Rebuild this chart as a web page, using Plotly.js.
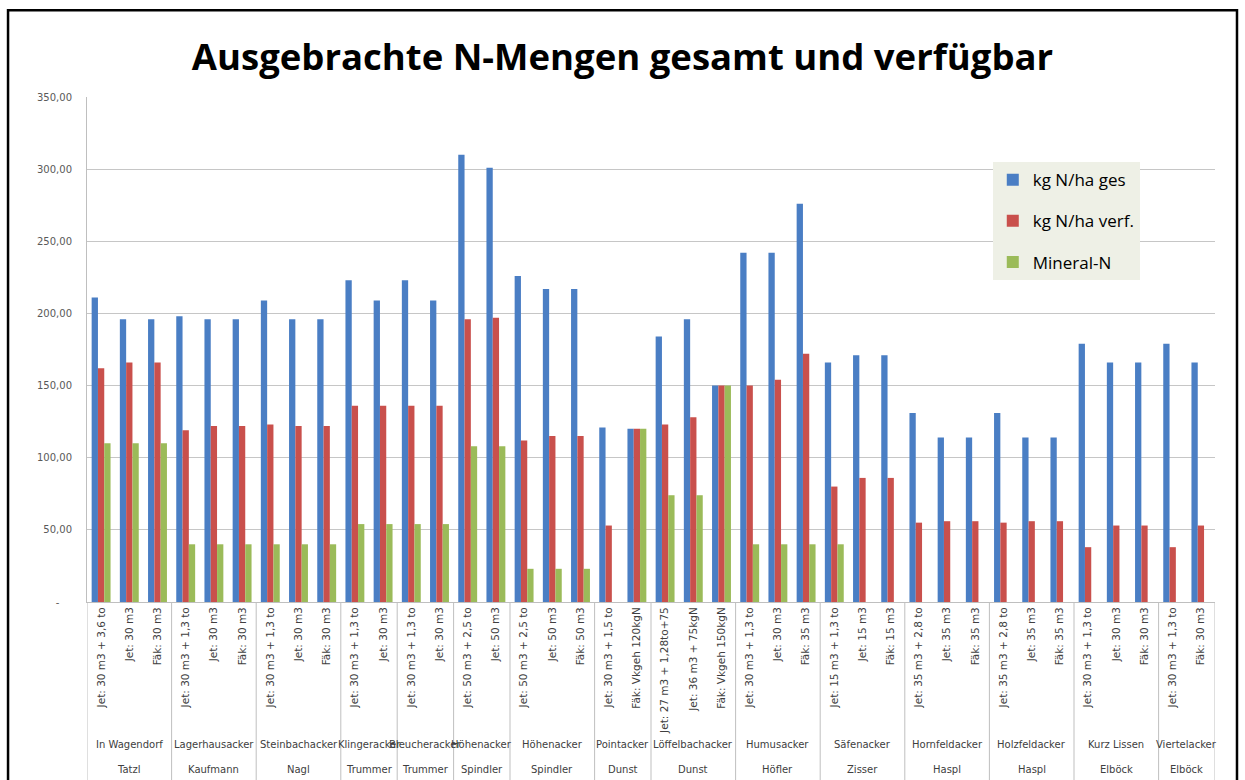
<!DOCTYPE html>
<html>
<head>
<meta charset="utf-8">
<script src="https://cdn.plot.ly/plotly-3.0.1.min.js"></script>
<style>
  html, body { margin: 0; padding: 0; background: #ffffff; }
  #chart { width: 1245px; height: 780px; }
</style>
</head>
<body>
<div id="chart"></div>
<script>
// ---- Data ----
const treatments = [
  "Jet: 30 m3 + 3,6 to", "Jet: 30 m3", "Fäk: 30 m3",
  "Jet: 30 m3 + 1,3 to", "Jet: 30 m3", "Fäk: 30 m3",
  "Jet: 30 m3 + 1,3 to", "Jet: 30 m3", "Fäk: 30 m3",
  "Jet: 30 m3 + 1,3 to", "Jet: 30 m3",
  "Jet: 30 m3 + 1,3 to", "Jet: 30 m3",
  "Jet: 50 m3 + 2,5 to", "Jet: 50 m3",
  "Jet: 50 m3 + 2,5 to", "Jet: 50 m3", "Fäk: 50 m3",
  "Jet: 30 m3 + 1,5 to", "Fäk: Vkgeh 120kgN",
  "Jet: 27 m3 + 1,28to+75", "Jet: 36 m3 + 75kgN", "Fäk: Vkgeh 150kgN",
  "Jet: 30 m3 + 1,3 to", "Jet: 30 m3", "Fäk: 35 m3",
  "Jet: 15 m3 + 1,3 to", "Jet: 15 m3", "Fäk: 15 m3",
  "Jet: 35 m3 + 2,8 to", "Jet: 35 m3", "Fäk: 35 m3",
  "Jet: 35 m3 + 2,8 to", "Jet: 35 m3", "Fäk: 35 m3",
  "Jet: 30 m3 + 1,3 to", "Jet: 30 m3", "Fäk: 30 m3",
  "Jet: 30 m3 + 1,3 to", "Fäk: 30 m3"
];

const fieldNames = ["In Wagendorf", "Lagerhausacker", "Steinbachacker", "Klingeracker", "Bleucheracker",
  "Höhenacker", "Höhenacker", "Pointacker", "Löffelbachacker", "Humusacker", "Säfenacker",
  "Hornfeldacker", "Holzfeldacker", "Kurz Lissen", "Viertelacker"];
const farmerNames = ["Tatzl", "Kaufmann", "Nagl", "Trummer", "Trummer", "Spindler", "Spindler",
  "Dunst", "Dunst", "Höfler", "Zisser", "Haspl", "Haspl", "Elböck", "Elböck"];
const groupSizes = [3, 3, 3, 2, 2, 2, 3, 2, 3, 3, 3, 3, 3, 3, 2];

const seriesNames = ["kg N/ha ges", "kg N/ha verf.", "Mineral-N"];

const nGesamt = [211, 196, 196, 198, 196, 196, 209, 196, 196, 223, 209, 223, 209, 310, 301,
  226, 217, 217, 121, 120, 184, 196, 150, 242, 242, 276, 166, 171, 171, 131, 114, 114, 131, 114, 114,
  179, 166, 166, 179, 166];
const nVerf = [162, 166, 166, 119, 122, 122, 123, 122, 122, 136, 136, 136, 136, 196, 197,
  112, 115, 115, 53, 120, 123, 128, 150, 150, 154, 172, 80, 86, 86, 55, 56, 56, 55, 56, 56,
  38, 53, 53, 38, 53];
const mineralN = [110, 110, 110, 40, 40, 40, 40, 40, 40, 54, 54, 54, 54, 108, 108,
  23, 23, 23, null, 120, 74, 74, 150, 40, 40, 40, 40, null, null, null, null, null, null, null, null,
  null, null, null, null, null];

const yTickVals = [0, 50, 100, 150, 200, 250, 300, 350];
const yTickText = ["-\u00a0\u00a0\u00a0\u00a0", "50,00", "100,00", "150,00", "200,00", "250,00", "300,00", "350,00"];

// ---- Build ----
const xIdx = treatments.map((_, i) => i);
const colors = ["#4a7ec4", "#c9504c", "#9bbb59"];
const vals = [nGesamt, nVerf, mineralN];

const traces = vals.map((v, k) => ({
  type: "bar",
  name: seriesNames[k],
  x: xIdx,
  y: v,
  marker: { color: colors[k] },
  legendgroup: "g" + k,
  hoverinfo: "y+name"
}));

const shapes = [];
const annotations = [];
let start = 0;
const yField = -0.283, yFarmer = -0.331, yBottom = -0.40;
const labelFont = { family: "DejaVu Sans", size: 10, color: "#404040" };
shapes.push({ type: "line", xref: "x", yref: "paper", x0: -0.5, x1: -0.5, y0: 0, y1: yBottom,
  line: { color: "#bfbfbf", width: 1 } });
groupSizes.forEach((s, g) => {
  const end = start + s;
  shapes.push({ type: "line", xref: "x", yref: "paper", x0: end - 0.5, x1: end - 0.5, y0: 0, y1: yBottom,
    line: { color: "#bfbfbf", width: 1 } });
  const c = start + (s - 1) / 2;
  annotations.push({ xref: "x", yref: "paper", x: c, y: yField, text: fieldNames[g], showarrow: false,
    font: labelFont, yanchor: "middle" });
  annotations.push({ xref: "x", yref: "paper", x: c, y: yFarmer, text: farmerNames[g], showarrow: false,
    font: labelFont, yanchor: "middle" });
  start = end;
});
// outer frame
shapes.push({ type: "rect", xref: "paper", yref: "paper", x0: -0.0700, x1: 1.0195, y0: -0.5, y1: 1.172,
  line: { color: "#000000", width: 2.5 }, fillcolor: "rgba(0,0,0,0)", layer: "above" });

const layout = {
  width: 1245, height: 780,
  margin: { l: 87, r: 30, t: 97, b: 178 },
  paper_bgcolor: "#ffffff", plot_bgcolor: "#ffffff",
  title: {
    text: "<b>Ausgebrachte N-Mengen gesamt und verfügbar</b>",
    font: { family: "Open Sans", size: 36.5, color: "#000000" },
    x: 0.5, xref: "container", xanchor: "center",
    y: 0.927, yref: "container", yanchor: "middle"
  },
  barmode: "group",
  bargap: 0.33,
  bargroupgap: 0,
  xaxis: {
    range: [-0.5, treatments.length - 0.5],
    tickmode: "array", tickvals: xIdx, ticktext: treatments,
    tickangle: -90, ticks: "", showgrid: false, zeroline: false,
    showline: true, linecolor: "#bfbfbf",
    tickfont: { family: "DejaVu Sans", size: 10.5, color: "#404040" }
  },
  yaxis: {
    range: [0, 350],
    tickmode: "array", tickvals: yTickVals, ticktext: yTickText,
    showgrid: true, gridcolor: "#c6c6c6", gridwidth: 1,
    zeroline: false, showline: true, linecolor: "#bfbfbf",
    ticks: "", ticklabelstandoff: 12,
    tickfont: { family: "DejaVu Sans", size: 10, color: "#595959" }
  },
  legend: {
    x: 0.803, y: 0.871, xanchor: "left", yanchor: "top",
    bgcolor: "#eef0e6", borderwidth: 0,
    font: { family: "Open Sans", size: 17, color: "#000000" },
    traceorder: "grouped", tracegroupgap: 16
  },
  shapes: shapes,
  annotations: annotations,
  showlegend: true
};

Plotly.newPlot("chart", traces, layout, { displayModeBar: false, staticPlot: true });
</script>
</body>
</html>
